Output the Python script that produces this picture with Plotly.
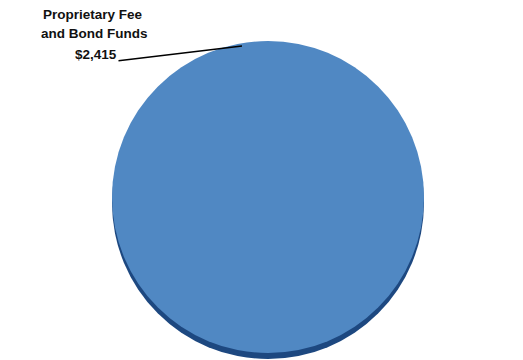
import plotly.graph_objects as go

# Fund categories and balances (in thousands)
categories = ["Proprietary Fee and Bond Funds"]
values = [2415]
value_labels = ["$2,415"]

W, H = 523, 360
cx, cy, r = 268, 197, 156   # pie centre and radius in pixels
rim = 6                     # depth of the darker edge below the face

def dom(cx, cy, r):
    return dict(x=[(cx - r) / W, (cx + r) / W],
                y=[(H - cy - r) / H, (H - cy + r) / H])

fig = go.Figure()

# darker edge giving the disc a little depth
fig.add_trace(go.Pie(
    labels=categories, values=values, domain=dom(cx, cy + rim, r),
    marker=dict(colors=["#1d4880"], line=dict(width=0)),
    textinfo="none", hoverinfo="skip", sort=False, showlegend=False,
))

# face of the pie
fig.add_trace(go.Pie(
    labels=categories, values=values, domain=dom(cx, cy, r),
    marker=dict(colors=["#5088c3"], line=dict(width=0)),
    textinfo="none", hovertemplate="%{label}: $%{value:,}<extra></extra>",
    sort=False, showlegend=False,
))

# leader line from the value label to the top of the pie
x0, y0 = 117, 61
x1, y1 = 242, 46
fig.add_annotation(
    x=x1 / W, y=(H - y1) / H, xref="paper", yref="paper",
    ax=x0 - x1, ay=y0 - y1, axref="pixel", ayref="pixel",
    showarrow=True, arrowhead=0, arrowwidth=1.4, arrowcolor="#000000",
    text="", standoff=0, startstandoff=0,
)

# callout label, one line at a time
label_lines = ["Proprietary Fee", "and Bond Funds", value_labels[0]]
line_x = [93, 93.5, 96]
line_y = [15, 33, 54]
for txt, lx, ly in zip(label_lines, line_x, line_y):
    fig.add_annotation(
        x=lx / W, y=(H - ly) / H, xref="paper", yref="paper",
        xanchor="center", yanchor="middle", showarrow=False,
        text="<b>" + txt + "</b>",
        font=dict(family="Liberation Sans, Arial, sans-serif", size=13.5, color="#111111"),
    )

fig.update_layout(
    width=W, height=H, margin=dict(l=0, r=0, t=0, b=0),
    paper_bgcolor="#ffffff", plot_bgcolor="#ffffff",
)

fig.write_html("out.html")
